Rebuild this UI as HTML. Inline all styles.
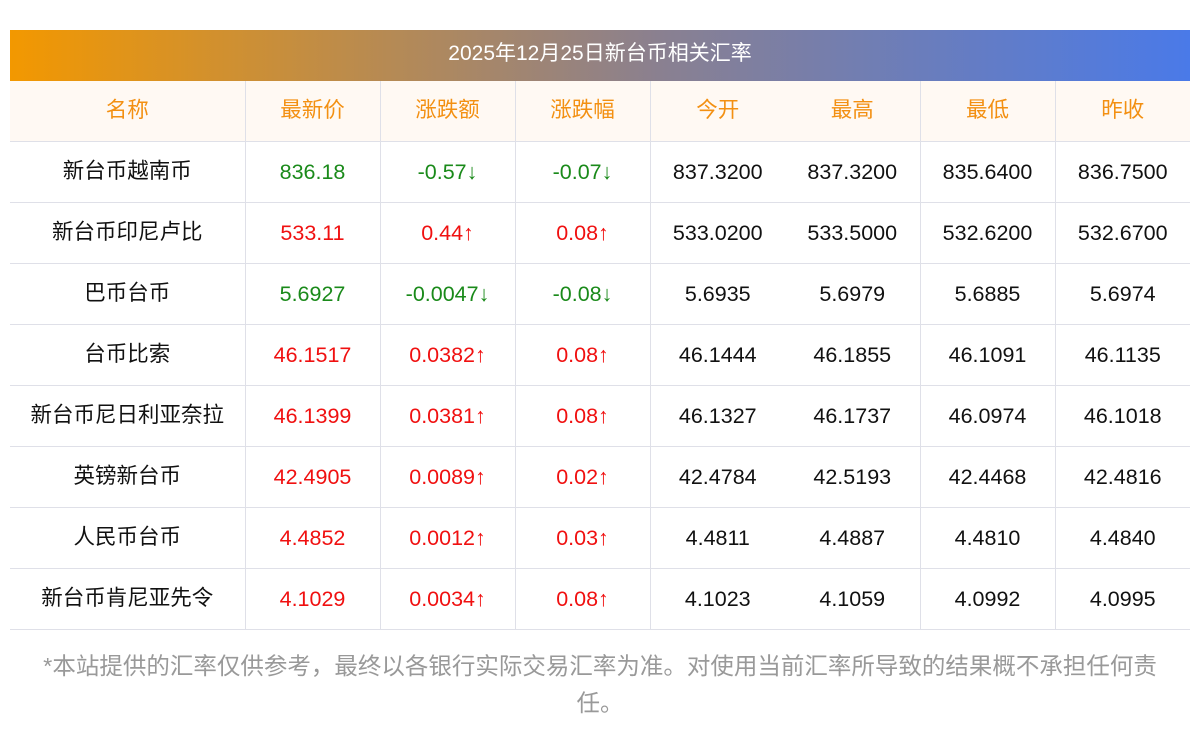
<!DOCTYPE html>
<html><head><meta charset="utf-8"><style>
body{margin:0;width:1200px;height:733px;background:#fff;font-family:"Liberation Sans","Noto Sans CJK SC",sans-serif;overflow:hidden}
.t{position:absolute;left:10px;top:30px;width:1180px}
.h{height:51px;line-height:51px;text-align:center;color:#fff;font-size:21px;background:linear-gradient(90deg,#f39800,#8a8090 55%,#4a7ae8)}
.h span{position:relative;top:-2px}
table{border-collapse:collapse;width:1180px;table-layout:fixed}
td{height:60px;border-bottom:1px solid #dfe0e8;border-left:1px solid #dfe0e8;text-align:center;font-size:21.5px;color:#111;padding:0}
td:first-child{border-left:none}
td.nb{border-left:none}
.c{position:relative;top:-3px}
tr.hd td{background:#fff9f3;color:#f39012}
.g{color:#1a8a1a}.r{color:#f01010}
.f{position:absolute;left:25px;width:1150px;top:648px;text-align:center;color:#999;font-size:23.5px;line-height:37px}
</style></head><body>
<div class="t"><div class="h"><span>2025年12月25日新台币相关汇率</span></div>
<table>
<colgroup><col style="width:235px"><col style="width:135px"><col style="width:135px"><col style="width:135px"><col style="width:135px"><col style="width:135px"><col style="width:135px"><col style="width:135px"></colgroup>
<tr class="hd"><td><span class="c">名称</span></td><td><span class="c">最新价</span></td><td><span class="c">涨跌额</span></td><td><span class="c">涨跌幅</span></td><td><span class="c">今开</span></td><td class="nb"><span class="c">最高</span></td><td><span class="c">最低</span></td><td><span class="c">昨收</span></td></tr>
<tr><td><span class="c">新台币越南币</span></td><td class="g">836.18</td><td class="g">-0.57↓</td><td class="g">-0.07↓</td><td>837.3200</td><td class="nb">837.3200</td><td>835.6400</td><td>836.7500</td></tr>
<tr><td><span class="c">新台币印尼卢比</span></td><td class="r">533.11</td><td class="r">0.44↑</td><td class="r">0.08↑</td><td>533.0200</td><td class="nb">533.5000</td><td>532.6200</td><td>532.6700</td></tr>
<tr><td><span class="c">巴币台币</span></td><td class="g">5.6927</td><td class="g">-0.0047↓</td><td class="g">-0.08↓</td><td>5.6935</td><td class="nb">5.6979</td><td>5.6885</td><td>5.6974</td></tr>
<tr><td><span class="c">台币比索</span></td><td class="r">46.1517</td><td class="r">0.0382↑</td><td class="r">0.08↑</td><td>46.1444</td><td class="nb">46.1855</td><td>46.1091</td><td>46.1135</td></tr>
<tr><td><span class="c">新台币尼日利亚奈拉</span></td><td class="r">46.1399</td><td class="r">0.0381↑</td><td class="r">0.08↑</td><td>46.1327</td><td class="nb">46.1737</td><td>46.0974</td><td>46.1018</td></tr>
<tr><td><span class="c">英镑新台币</span></td><td class="r">42.4905</td><td class="r">0.0089↑</td><td class="r">0.02↑</td><td>42.4784</td><td class="nb">42.5193</td><td>42.4468</td><td>42.4816</td></tr>
<tr><td><span class="c">人民币台币</span></td><td class="r">4.4852</td><td class="r">0.0012↑</td><td class="r">0.03↑</td><td>4.4811</td><td class="nb">4.4887</td><td>4.4810</td><td>4.4840</td></tr>
<tr><td><span class="c">新台币肯尼亚先令</span></td><td class="r">4.1029</td><td class="r">0.0034↑</td><td class="r">0.08↑</td><td>4.1023</td><td class="nb">4.1059</td><td>4.0992</td><td>4.0995</td></tr>
</table></div>
<div class="f">*本站提供的汇率仅供参考，最终以各银行实际交易汇率为准。对使用当前汇率所导致的结果概不承担任何责任。</div>
</body></html>
